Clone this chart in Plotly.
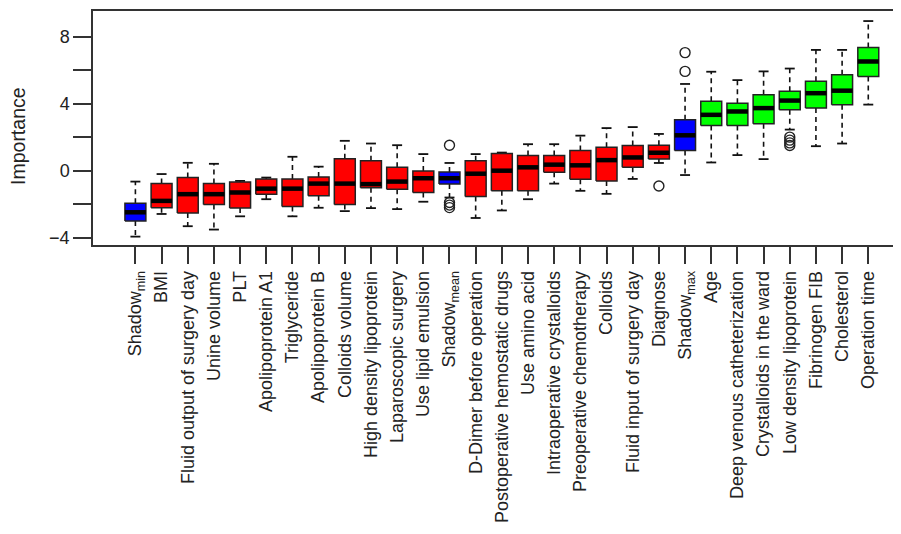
import plotly.graph_objects as go

categories = [
    "Shadow<sub>min</sub>", "BMI", "Fluid output of surgery day", "Unine volume", "PLT",
    "Apolipoprotein A1", "Triglyceride", "Apolipoprotein B", "Colloids volume",
    "High density lipoprotein", "Laparoscopic surgery", "Use lipid emulsion",
    "Shadow<sub>mean</sub>", "D-Dimer before operation", "Postoperative hemostatic drugs",
    "Use amino acid", "Intraoperative crystalloids", "Preoperative chemotherapy", "Colloids",
    "Fluid input of surgery day", "Diagnose", "Shadow<sub>max</sub>", "Age",
    "Deep venous catheterization", "Crystalloids in the ward", "Low density lipoprotein",
    "Fibrinogen FIB", "Cholesterol", "Operation time",
]
decision = [
    "shadow", "rejected", "rejected", "rejected", "rejected", "rejected", "rejected",
    "rejected", "rejected", "rejected", "rejected", "rejected", "shadow", "rejected",
    "rejected", "rejected", "rejected", "rejected", "rejected", "rejected", "rejected",
    "shadow", "confirmed", "confirmed", "confirmed", "confirmed", "confirmed",
    "confirmed", "confirmed",
]
lower_whisker = [-3.93, -2.58, -3.31, -3.51, -2.72, -1.70, -2.72, -2.21, -2.41, -2.23,
                 -2.29, -1.85, -1.60, -2.82, -2.37, -1.70, -0.77, -1.20, -1.38, -0.49,
                 0.46, -0.26, 0.49, 0.93, 0.69, 2.45, 1.46, 1.62, 3.94]
q1 = [-3.00, -2.21, -2.52, -2.01, -2.23, -1.40, -2.13, -1.50, -2.01, -1.01,
      -1.10, -1.30, -0.79, -1.54, -1.20, -1.20, -0.10, -0.51, -0.61, 0.20,
      0.69, 1.20, 2.70, 2.70, 2.80, 3.63, 3.73, 3.93, 5.62]
median = [-2.48, -1.80, -1.40, -1.40, -1.30, -1.07, -1.07, -0.77, -0.77, -0.80,
          -0.65, -0.45, -0.45, -0.18, 0.00, 0.20, 0.36, 0.32, 0.63, 0.79,
          1.07, 2.11, 3.33, 3.53, 3.73, 4.18, 4.62, 4.77, 6.51]
q3 = [-1.94, -0.77, -0.41, -0.77, -0.67, -0.49, -0.49, -0.37, 0.71, 0.59,
      0.20, -0.02, -0.08, 0.59, 1.03, 0.91, 0.91, 1.20, 1.40, 1.50,
      1.52, 3.04, 4.14, 4.02, 4.52, 4.73, 5.33, 5.72, 7.34]
upper_whisker = [-0.65, -0.20, 0.47, 0.41, -0.61, -0.41, 0.83, 0.24, 1.78, 1.62,
                 1.52, 0.99, 0.46, 0.99, 1.08, 1.58, 1.58, 2.09, 2.54, 2.60,
                 2.19, 5.17, 5.90, 5.40, 5.92, 6.09, 7.20, 7.20, 8.92]
outliers = [[], [], [], [], [], [], [], [], [], [], [], [],
            [1.52, -1.90, -2.05, -2.20], [], [], [], [], [], [], [], [-0.91],
            [5.92, 7.04], [], [], [], [2.00, 1.82, 1.66, 1.50], [], [], []]

y_tick_values = [-4, 0, 4, 8]
y_tick_labels = ["\u22124", "0", "4", "8"]
y_minor_ticks = [-2, 2, 6]
y_title = "Importance"

colors = {"shadow": "#0000FF", "rejected": "#FF0000", "confirmed": "#00FF00"}
BOX_HALF = 0.4
CAP_HALF = 0.19
FONT = "Liberation Sans, Arial, Helvetica, sans-serif"
FS = 18

pos = list(range(1, len(categories) + 1))
fig = go.Figure()

# whiskers (dashed)
wx, wy = [], []
for p, lo, a, b, hi in zip(pos, lower_whisker, q1, q3, upper_whisker):
    wx += [p, p, None, p, p, None]
    wy += [b, hi, None, a, lo, None]
fig.add_trace(go.Scatter(x=wx, y=wy, mode="lines", line=dict(color="#111111", width=1.6, dash="5px,4px"),
                         hoverinfo="skip", showlegend=False))

# caps
cx, cy = [], []
for p, lo, hi in zip(pos, lower_whisker, upper_whisker):
    cx += [p - CAP_HALF, p + CAP_HALF, None, p - CAP_HALF, p + CAP_HALF, None]
    cy += [hi, hi, None, lo, lo, None]
fig.add_trace(go.Scatter(x=cx, y=cy, mode="lines", line=dict(color="#111111", width=1.8),
                         hoverinfo="skip", showlegend=False))

# boxes by group
for grp, col in colors.items():
    bx, by = [], []
    for p, d, a, b in zip(pos, decision, q1, q3):
        if d != grp:
            continue
        bx += [p - BOX_HALF, p + BOX_HALF, p + BOX_HALF, p - BOX_HALF, p - BOX_HALF, None]
        by += [a, a, b, b, a, None]
    fig.add_trace(go.Scatter(x=bx, y=by, mode="lines", fill="toself", fillcolor=col,
                             line=dict(color="#222222", width=1.5), hoverinfo="skip", showlegend=False))

# medians
mx, my = [], []
for p, m in zip(pos, median):
    mx += [p - BOX_HALF, p + BOX_HALF, None]
    my += [m, m, None]
fig.add_trace(go.Scatter(x=mx, y=my, mode="lines", line=dict(color="#000000", width=4.5),
                         hoverinfo="skip", showlegend=False))

# outliers
ox, oy = [], []
for p, outs in zip(pos, outliers):
    for v in outs:
        ox.append(p)
        oy.append(v)
fig.add_trace(go.Scatter(x=ox, y=oy, mode="markers",
                         marker=dict(symbol="circle-open", size=10, color="#222222", line=dict(width=1.4)),
                         hoverinfo="skip", showlegend=False))

fig.update_layout(
    width=893, height=526,
    margin=dict(l=85, r=0, t=3, b=289),
    paper_bgcolor="white", plot_bgcolor="white",
    font=dict(family=FONT, size=FS, color="#222222"),
    showlegend=False,
)
fig.add_annotation(
    text=y_title, xref="paper", yref="paper", x=-0.0928, y=0.466,
    xanchor="center", yanchor="middle", textangle=-90, showarrow=False,
    font=dict(size=19.5, family=FONT, color="#222222"),
)
fig.update_xaxes(
    automargin=False,
    range=[-0.62, 30.25], tickmode="array", tickvals=pos, ticktext=categories,
    tickangle=-90, ticks="outside", ticklen=17, tickwidth=1.5, tickcolor="#333333",
    showline=True, linecolor="#333333", linewidth=1.5, mirror=True,
    showgrid=False, zeroline=False, tickfont=dict(size=FS, family=FONT, color="#222222"),
)
fig.update_yaxes(
    automargin=False,
    range=[-4.43, 9.52], tickmode="array", tickvals=y_tick_values, ticktext=y_tick_labels,
    ticks="outside", ticklen=18, tickwidth=1.5, tickcolor="#333333",
    minor=dict(tickmode="array", tickvals=y_minor_ticks, ticks="outside", ticklen=18,
               tickwidth=1.5, tickcolor="#333333", showgrid=False),
    showline=True, linecolor="#333333", linewidth=1.5, mirror=False,
    showgrid=False, zeroline=False, tickfont=dict(size=FS, family=FONT, color="#222222"),
)

fig.write_html("out.html")
